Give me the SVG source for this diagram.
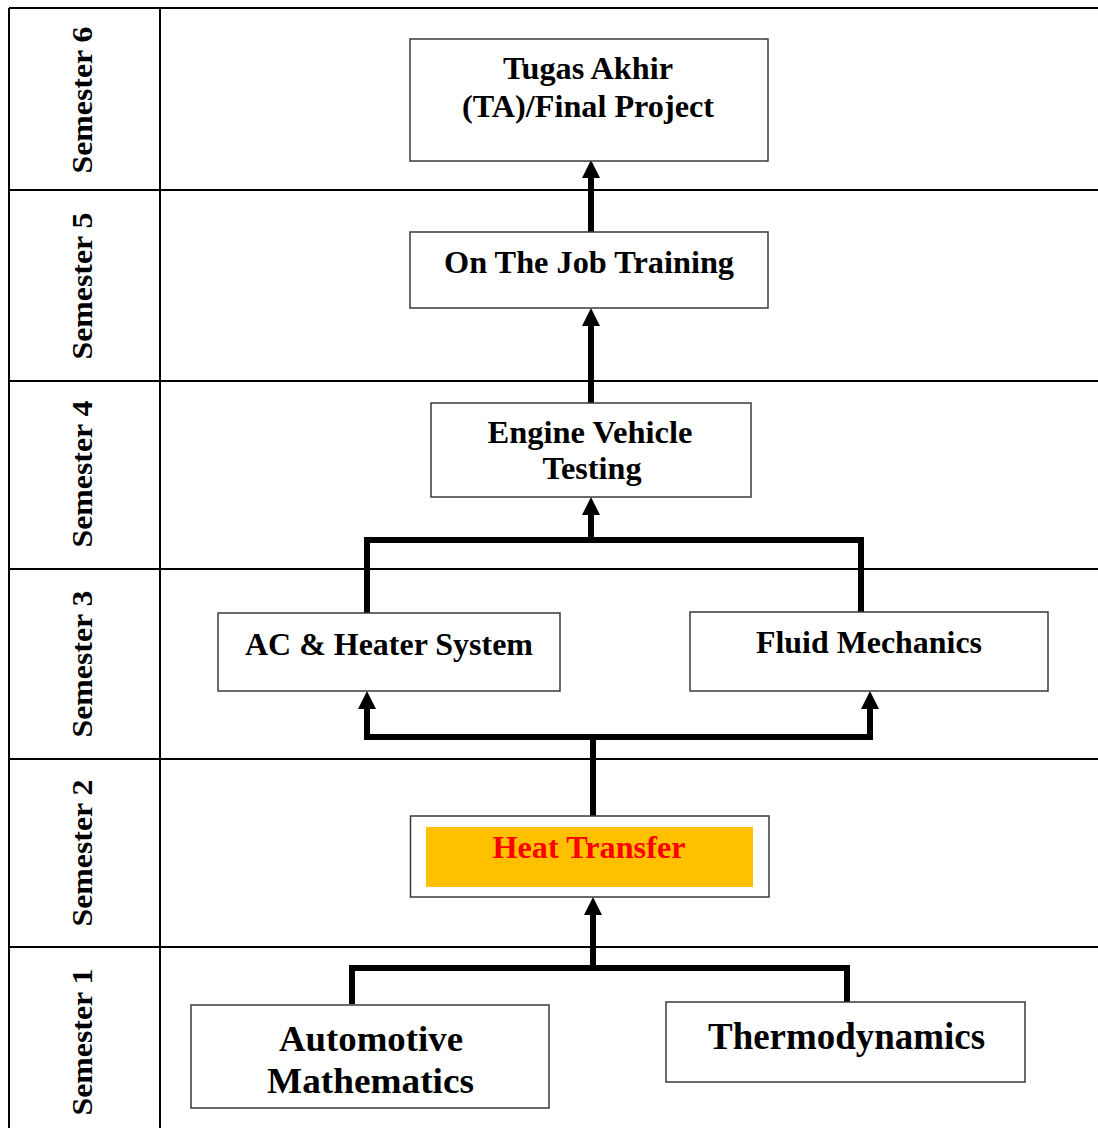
<svg xmlns="http://www.w3.org/2000/svg" width="1098" height="1128" viewBox="0 0 1098 1128">
<style>
.grid{stroke:#000;stroke-width:2;fill:none}
.box{fill:#fff;stroke:#3a3a3a;stroke-width:1.5}
.t{font-family:"Liberation Serif","Times New Roman",serif;font-weight:bold;fill:#000;text-anchor:middle}
.sem{font-family:"Liberation Serif","Times New Roman",serif;font-weight:bold;font-size:29px;fill:#000;text-anchor:middle}
.c{stroke:#000;stroke-width:6;fill:none;stroke-linejoin:miter}
</style>
<defs>
<marker id="ah" markerUnits="userSpaceOnUse" markerWidth="18" markerHeight="18" viewBox="0 0 18 18" refX="0" refY="9" orient="auto">
<path d="M0,0 L18,9 L0,18 z" fill="#000"/>
</marker>
</defs>
<rect width="1098" height="1128" fill="#fff"/>
<g id="table">
<path class="grid" d="M9,8 H1098 M9,8 V1128 M160,8 V1128 M9,190 H1098 M9,381 H1098 M9,569 H1098 M9,759 H1098 M9,947 H1098"/>
</g>
<g id="semester-labels">
<text class="sem" transform="translate(92,100) rotate(-90)" textLength="147" lengthAdjust="spacingAndGlyphs">Semester 6</text>
<text class="sem" transform="translate(92,286) rotate(-90)" textLength="147" lengthAdjust="spacingAndGlyphs">Semester 5</text>
<text class="sem" transform="translate(92,474) rotate(-90)" textLength="147" lengthAdjust="spacingAndGlyphs">Semester 4</text>
<text class="sem" transform="translate(92,664) rotate(-90)" textLength="147" lengthAdjust="spacingAndGlyphs">Semester 3</text>
<text class="sem" transform="translate(92,853) rotate(-90)" textLength="147" lengthAdjust="spacingAndGlyphs">Semester 2</text>
<text class="sem" transform="translate(92,1042) rotate(-90)" textLength="147" lengthAdjust="spacingAndGlyphs">Semester 1</text>
</g>
<g id="connectors">
<path class="c" d="M591,232 V178" marker-end="url(#ah)"/>
<path class="c" d="M591,403 V326" marker-end="url(#ah)"/>
<path class="c" d="M367,613 V540 H861 V612"/>
<path class="c" d="M591,540 V515" marker-end="url(#ah)"/>
<path class="c" d="M593,816 V737"/>
<path class="c" d="M367,709 V737 H870 V709"/>
<path class="c" d="M367,712 V709" marker-end="url(#ah)"/>
<path class="c" d="M870,712 V709" marker-end="url(#ah)"/>
<path class="c" d="M352,1004 V968 H847 V1002"/>
<path class="c" d="M593,968 V915" marker-end="url(#ah)"/>
</g>
<g id="tugas-akhir">
<rect class="box" x="410" y="39" width="358" height="122"/>
<text class="t" x="588" y="79" font-size="32" textLength="170" lengthAdjust="spacingAndGlyphs">Tugas Akhir</text>
<text class="t" x="588" y="117" font-size="32" textLength="252" lengthAdjust="spacingAndGlyphs">(TA)/Final Project</text>
</g>
<g id="on-the-job-training">
<rect class="box" x="410" y="232" width="358" height="76"/>
<text class="t" x="589" y="273" font-size="32" textLength="290" lengthAdjust="spacingAndGlyphs">On The Job Training</text>
</g>
<g id="engine-vehicle-testing">
<rect class="box" x="431" y="403" width="320" height="94"/>
<text class="t" x="590" y="443" font-size="32" textLength="205" lengthAdjust="spacingAndGlyphs">Engine Vehicle</text>
<text class="t" x="592" y="479" font-size="32" textLength="99" lengthAdjust="spacingAndGlyphs">Testing</text>
</g>
<g id="ac-heater-system">
<rect class="box" x="218" y="613" width="342" height="78"/>
<text class="t" x="389" y="655" font-size="31" textLength="288" lengthAdjust="spacingAndGlyphs">AC &amp; Heater System</text>
</g>
<g id="fluid-mechanics">
<rect class="box" x="690" y="612" width="358" height="79"/>
<text class="t" x="869" y="653" font-size="32" textLength="226" lengthAdjust="spacingAndGlyphs">Fluid Mechanics</text>
</g>
<g id="heat-transfer">
<rect class="box" x="410.5" y="816" width="358.5" height="81"/>
<rect x="426" y="827" width="327" height="60" fill="#FFC000"/>
<text class="t" x="589" y="858" font-size="32" style="fill:#FF0000" textLength="193" lengthAdjust="spacingAndGlyphs">Heat Transfer</text>
</g>
<g id="automotive-mathematics">
<rect class="box" x="191" y="1005" width="358" height="103"/>
<text class="t" x="371" y="1051" font-size="36" textLength="184" lengthAdjust="spacingAndGlyphs">Automotive</text>
<text class="t" x="370.5" y="1093" font-size="36" textLength="207" lengthAdjust="spacingAndGlyphs">Mathematics</text>
</g>
<g id="thermodynamics">
<rect class="box" x="666" y="1002" width="359" height="80"/>
<text class="t" x="846.5" y="1049" font-size="37" textLength="277" lengthAdjust="spacingAndGlyphs">Thermodynamics</text>
</g>
</svg>
